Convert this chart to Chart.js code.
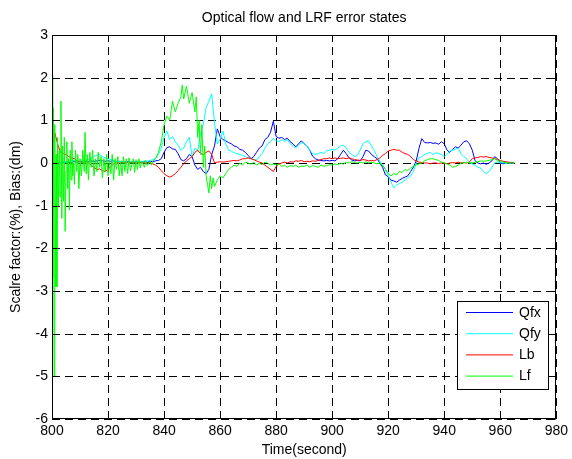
<!DOCTYPE html>
<html><head><meta charset="utf-8">
<script src="https://cdn.jsdelivr.net/npm/chart.js@4/dist/chart.umd.min.js"></script>
<style>html,body{margin:0;padding:0;background:#fff}#wrap{width:572px;height:459px}</style>
</head><body><div id="wrap"><canvas id="c" width="572" height="459"></canvas></div>
<script>
// ---- data ----
const chartTitle = 'Optical flow and LRF error states';
const xLabel = 'Time(second)';
const yLabel = 'Scalre factor:(%), Bias:(dm)';
const seriesNames = ['Qfx', 'Qfy', 'Lb', 'Lf'];
const xTicks = [800, 820, 840, 860, 880, 900, 920, 940, 960, 980];
const yTicks = [-6, -5, -4, -3, -2, -1, 0, 1, 2, 3];

// 1-second time grid 800..965
const times = [];
for (let t = 800; t <= 965; t++) times.push(t);

const qfx = [
 0.0, 0.0, 0.01, 0.0, 0.01, 0.02, 0.01, 0.02, 0.03, 0.02,
 0.03, 0.02, 0.04, 0.03, 0.05, 0.04, 0.05, 0.06, 0.05, 0.04,
 0.05, 0.04, 0.05, 0.03, 0.04, 0.03, 0.02, 0.03, 0.02, 0.03,
 0.02, 0.03, 0.02, 0.03, 0.02, 0.04, 0.03, 0.05, 0.06, 0.1,
 0.25, 0.36, 0.38, 0.33, 0.32, 0.22, 0.08, 0.05, 0.1, 0.2,
 0.15, -0.05, -0.15, -0.1, -0.2, -0.25, -0.15, 0.2, 0.4, 0.8,
 0.62, 0.55, 0.52, 0.48, 0.45, 0.4, 0.38, 0.32, 0.3, 0.25,
 0.18, 0.1, 0.15, 0.25, 0.35, 0.4, 0.55, 0.6, 0.72, 0.98,
 0.62, 0.58, 0.6, 0.55, 0.58, 0.5, 0.45, 0.38, 0.45, 0.52,
 0.45, 0.4, 0.3, 0.16, 0.1, 0.07, 0.06, 0.05, 0.06, 0.05,
 0.06, 0.05, 0.1, 0.2, 0.3, 0.22, 0.12, 0.07, 0.05, 0.06,
 0.05, 0.15, 0.3, 0.28, 0.2, 0.15, 0.1, 0.0, -0.1, -0.28,
 -0.32, -0.4, -0.42, -0.45, -0.4, -0.36, -0.33, -0.3, -0.2, -0.1,
 0.05, 0.35, 0.57, 0.48, 0.47, 0.48, 0.46, 0.47, 0.44, 0.5,
 0.45, 0.3, 0.25, 0.32, 0.38, 0.35, 0.42, 0.5, 0.52, 0.45,
 0.3, 0.05, 0.0, -0.02, 0.0, -0.03, 0.0, 0.05, 0.15, 0.1,
 0.0, -0.02, 0.0, 0.01, 0.0, 0.0
];
const qfy = [
 0.0, 0.02, 0.01, 0.02, 0.03, 0.02, 0.04, 0.05, 0.06, 0.05,
 0.04, 0.05, 0.06, 0.08, 0.1, 0.15, 0.18, 0.2, 0.15, 0.12,
 0.1, 0.08, 0.05, 0.04, 0.03, 0.04, 0.03, 0.02, 0.03, 0.02,
 0.03, 0.04, 0.03, 0.05, 0.04, 0.06, 0.08, 0.12, 0.2, 0.35,
 0.6, 0.75, 0.55, 0.62, 0.5, 0.42, 0.3, 0.35, 0.5, 0.6,
 0.15, 0.35, 0.28, 0.7, 0.9, 1.3, 1.45, 1.62, 0.95, 0.45,
 0.55, 0.75, 0.45, 0.3, 0.28, 0.24, 0.22, 0.2, 0.18, 0.15,
 0.12, 0.1, 0.08, 0.07, 0.15, 0.22, 0.35, 0.45, 0.5, 0.58,
 0.52, 0.5, 0.55, 0.5, 0.55, 0.45, 0.4, 0.35, 0.42, 0.48,
 0.45, 0.4, 0.3, 0.22, 0.2, 0.22, 0.25, 0.22, 0.28, 0.3,
 0.32, 0.3, 0.35, 0.4, 0.42, 0.35, 0.25, 0.2, 0.15, 0.18,
 0.3, 0.45, 0.5, 0.52, 0.4, 0.3, 0.15, 0.05, -0.05, -0.15,
 -0.3, -0.45, -0.58, -0.52, -0.48, -0.45, -0.4, -0.35, -0.3, -0.2,
 0.0, 0.12, 0.15, 0.2, 0.22, 0.25, 0.2, 0.24, 0.22, 0.2,
 0.15, 0.2, 0.28, 0.3, 0.32, 0.35, 0.22, 0.15, 0.1, 0.02,
 -0.02, -0.05, -0.1, -0.12, -0.2, -0.25, -0.2, -0.1, 0.0, 0.03,
 0.0, 0.01, 0.0, 0.0, 0.0, 0.0
];
const lb = [
 0.0, 0.7, 0.45, 0.25, 0.22, 0.2, 0.15, 0.12, 0.1, 0.05,
 0.03, 0.02, 0.0, 0.0, -0.05, -0.1, -0.15, -0.14, -0.18, -0.2,
 -0.15, -0.08, -0.02, 0.0, 0.0, 0.01, 0.0, 0.02, 0.0, 0.01,
 0.0, 0.01, 0.0, 0.0, 0.01, 0.0, -0.02, -0.05, -0.1, -0.18,
 -0.25, -0.3, -0.33, -0.3, -0.25, -0.18, -0.1, -0.02, 0.05, 0.1,
 0.15, 0.25, 0.3, 0.22, 0.2, 0.25, 0.28, 0.2, 0.0, 0.02,
 0.03, 0.02, 0.03, 0.04, 0.05, 0.06, 0.05, 0.07, 0.1, 0.1,
 0.12, 0.1, 0.08, 0.05, 0.02, 0.0, -0.05, -0.1, -0.15, -0.2,
 -0.08, -0.02, 0.0, 0.02, 0.0, 0.03, 0.02, 0.05, 0.04, 0.06,
 0.03, 0.04, 0.03, 0.05, 0.04, 0.06, 0.08, 0.1, 0.1, 0.12,
 0.1, 0.12, 0.1, 0.11, 0.12, 0.1, 0.12, 0.1, 0.08, 0.07,
 0.06, 0.08, 0.07, 0.05, 0.06, 0.05, 0.08, 0.12, 0.18, 0.22,
 0.28, 0.3, 0.32, 0.3, 0.3, 0.25, 0.22, 0.2, 0.15, 0.08,
 0.05, 0.02, 0.01, 0.0, 0.0, -0.02, 0.0, 0.0, -0.01, 0.0,
 0.0, -0.02, 0.0, 0.01, 0.0, 0.02, 0.0, 0.01, 0.0, 0.02,
 0.1, 0.12, 0.13, 0.15, 0.14, 0.15, 0.13, 0.12, 0.1, 0.08,
 0.06, 0.04, 0.03, 0.02, 0.01, 0.0
];
// Lf: dense samples 800..870, then 1-second grid 871..965
const lfTimeEarly = [
 800.0, 800.25, 800.5, 800.75, 801.0, 801.25, 801.5, 801.75, 802.0, 802.3,
 802.6, 802.9, 803.2, 803.5, 803.8, 804.1, 804.4, 804.7, 805.0, 805.3,
 805.6, 805.9, 806.2, 806.5, 806.8, 807.1, 807.4, 807.7, 808.0, 808.4,
 808.8, 809.2, 809.6, 810.0, 810.5, 811.0, 811.5, 811.8, 812.2, 812.6,
 813.0, 813.5, 814.0, 814.5, 815.0, 815.5, 816.0, 816.5, 817.0, 817.5,
 818.0, 818.5, 819.0, 819.5, 820.0, 820.5, 821.0, 821.5, 822.0, 822.5,
 823.0, 823.5, 824.0, 824.5, 825.0, 825.5, 826.0, 826.5, 827.0, 827.5,
 828.0, 829.0, 829.5, 830.0, 830.5, 831.0, 831.5, 832.0, 833.0, 833.5,
 834.0, 835.0, 835.5, 836.0, 837.0, 838.0, 839.0, 840.0, 841.0, 842.0,
 843.0, 844.0, 845.0, 846.0, 846.5, 847.0, 848.0, 849.0, 850.0, 851.0,
 851.5, 852.0, 852.5, 853.0, 853.5, 854.0, 854.5, 855.0, 855.5, 856.0,
 856.5, 857.0, 857.5, 858.0, 859.0, 860.0, 861.0, 862.0, 863.0, 864.0,
 865.0, 866.0, 867.0, 868.0, 869.0, 870.0
];
const lfEarly = [
 2.05, -2.7, 1.3, -5.0, 0.9, -2.9, 0.2, -2.9, 0.6, -1.0,
 0.3, -0.8, 1.45, -1.3, 0.4, -0.9, 0.6, -1.6, -0.2, 0.5,
 -0.6, 0.1, -1.1, 0.3, -0.4, 0.5, -0.3, 0.0, -0.5, 0.3,
 -0.2, 0.2, -0.6, 0.1, -0.3, 0.3, -0.2, 0.72, -0.25, 0.2,
 -0.4, 0.25, -0.1, 0.3, -0.3, 0.1, -0.2, 0.25, -0.1, 0.15,
 -0.35, 0.1, -0.2, 0.2, -0.3, 0.05, -0.25, 0.2, -0.4, 0.1,
 -0.15, 0.15, -0.3, 0.05, -0.3, 0.15, -0.2, 0.1, -0.25, 0.12,
 -0.18, 0.1, -0.22, 0.08, -0.15, 0.1, -0.12, 0.05, -0.1, 0.06,
 -0.06, 0.04, -0.05, 0.05, 0.1, 0.25, 0.5, 0.9, 1.1, 1.0,
 1.45, 1.2, 1.4, 1.55, 1.83, 1.5, 1.8, 1.4, 1.65, 1.2,
 1.55, 0.6, 1.0, 0.2, 0.9, -0.1, 0.4, -0.3, -0.5, -0.7,
 -0.3, -0.6, -0.35, -0.55, -0.4, -0.3, -0.35, -0.25, -0.15, -0.1,
 -0.05, -0.08, 0.0, -0.05, 0.02, 0.0
];
const lfLate = [
 -0.03, 0.02, -0.05, 0.0, -0.04, 0.02, 0.0, -0.05, -0.02,
 -0.05, -0.02, -0.08, -0.05, -0.1, -0.06, -0.08, -0.05, -0.1, -0.07,
 -0.08, -0.05, -0.1, -0.06, -0.08, -0.1, -0.05, -0.08, -0.06, -0.04,
 -0.05, -0.02, -0.04, 0.0, -0.03, 0.02, 0.0, 0.03, 0.01, 0.0,
 0.02, 0.0, 0.03, 0.0, 0.02, 0.0, -0.02, 0.0, -0.05, -0.15,
 -0.25, -0.3, -0.25, -0.28, -0.2, -0.22, -0.15, -0.18, -0.12, -0.08,
 -0.05, -0.02, 0.0, 0.05, 0.08, 0.1, 0.1, 0.08, 0.06, 0.02,
 0.0, -0.02, -0.05, -0.1, -0.08, -0.05, 0.0, 0.0, 0.02, 0.0,
 0.0, 0.02, 0.03, 0.05, 0.04, 0.05, 0.06, 0.08, 0.1, 0.06,
 0.04, 0.02, 0.01, 0.0, 0.0, 0.0
];
const lfTime = lfTimeEarly.concat(times.slice(71));
const lf = lfEarly.concat(lfLate);

const colors = ['#0000ff', '#00ffff', '#ff0000', '#00ff00'];
const FONT = '"Liberation Sans", Arial, Helvetica, sans-serif';

function pts(xs, ys) { return xs.map((x, i) => ({ x: x, y: ys[i] })); }

const decor = {
  id: 'decor',
  beforeDatasetsDraw(chart) {
    const { ctx, chartArea: a, scales: { x, y } } = chart;
    ctx.save();
    ctx.strokeStyle = '#000';
    ctx.lineWidth = 1;
    ctx.setLineDash([8, 5]);
    xTicks.forEach(v => {
      const px = Math.round(x.getPixelForValue(v)) + 0.5;
      ctx.beginPath(); ctx.moveTo(px, a.bottom); ctx.lineTo(px, a.top); ctx.stroke();
    });
    yTicks.forEach(v => {
      const py = Math.round(y.getPixelForValue(v)) + 0.5;
      ctx.beginPath(); ctx.moveTo(a.left, py); ctx.lineTo(a.right, py); ctx.stroke();
    });
    ctx.restore();
  },
  afterDatasetsDraw(chart) {
    const { ctx, chartArea: a, scales: { x, y } } = chart;
    ctx.save();
    ctx.strokeStyle = '#000';
    ctx.lineWidth = 1;
    ctx.setLineDash([]);
    const L = Math.round(a.left) + 0.5, R = Math.round(a.right) - 0.5;
    const T = Math.round(a.top) + 0.5, B = Math.round(a.bottom) - 0.5;
    ctx.strokeRect(L, T, R - L, B - T);
    // inward tick marks
    ctx.beginPath();
    xTicks.forEach(v => {
      const px = Math.round(x.getPixelForValue(v)) + 0.5;
      ctx.moveTo(px, B); ctx.lineTo(px, B - 5);
      ctx.moveTo(px, T); ctx.lineTo(px, T + 5);
    });
    yTicks.forEach(v => {
      const py = Math.round(y.getPixelForValue(v)) + 0.5;
      ctx.moveTo(L, py); ctx.lineTo(L + 5, py);
      ctx.moveTo(R, py); ctx.lineTo(R - 5, py);
    });
    ctx.stroke();

    // legend box
    const bx = 457.5, by = 301.5, bw = 91, bh = 88;
    ctx.fillStyle = '#fff';
    ctx.fillRect(bx, by, bw, bh);
    ctx.strokeRect(bx, by, bw, bh);
    ctx.font = '14px ' + FONT;
    ctx.textBaseline = 'middle';
    ctx.textAlign = 'left';
    chart.data.datasets.forEach((ds, i) => {
      const ly = 312.5 + i * 21.2;
      ctx.strokeStyle = ds.borderColor;
      ctx.beginPath(); ctx.moveTo(466, ly); ctx.lineTo(513, ly); ctx.stroke();
      ctx.fillStyle = '#000';
      ctx.fillText(ds.label, 519, ly + 0.5);
    });

    // titles
    ctx.fillStyle = '#000';
    ctx.textAlign = 'center';
    ctx.textBaseline = 'middle';
    const cx = (a.left + a.right) / 2;
    ctx.fillText(chartTitle, cx, 18);
    ctx.fillText(xLabel, cx, 450);
    ctx.save();
    ctx.translate(16, (a.top + a.bottom) / 2);
    ctx.rotate(-Math.PI / 2);
    ctx.fillText(yLabel, 0, 0);
    ctx.restore();
    ctx.restore();
  }
};

const tickFont = { family: FONT, size: 14 };

new Chart(document.getElementById('c'), {
  type: 'line',
  data: {
    datasets: [
      { label: seriesNames[0], data: pts(times, qfx), borderColor: colors[0], order: 3 },
      { label: seriesNames[1], data: pts(times, qfy), borderColor: colors[1], order: 2 },
      { label: seriesNames[2], data: pts(times, lb), borderColor: colors[2], order: 1 },
      { label: seriesNames[3], data: pts(lfTime, lf), borderColor: colors[3], order: 0 }
    ]
  },
  options: {
    responsive: false,
    animation: false,
    events: [],
    datasets: { line: { borderWidth: 1, pointRadius: 0, tension: 0, fill: false } },
    layout: { padding: { top: 35, right: 12, left: 0, bottom: 0 } },
    plugins: { legend: { display: false }, tooltip: { enabled: false }, title: { display: false } },
    scales: {
      x: {
        type: 'linear', min: 800, max: 980,
        afterBuildTicks: s => { s.ticks = xTicks.map(v => ({ value: v })); },
        ticks: { font: tickFont, color: '#000', padding: 4, maxRotation: 0, autoSkip: false },
        grid: { display: false, drawTicks: false },
        border: { display: false },
        afterFit: s => { s.height = 40; }
      },
      y: {
        type: 'linear', min: -6, max: 3,
        afterBuildTicks: s => { s.ticks = yTicks.map(v => ({ value: v })); },
        ticks: { font: tickFont, color: '#000', padding: 4, autoSkip: false },
        grid: { display: false, drawTicks: false },
        border: { display: false },
        afterFit: s => { s.height = s.height; s.width = 52; }
      }
    }
  },
  plugins: [decor]
});
</script>
</body></html>
